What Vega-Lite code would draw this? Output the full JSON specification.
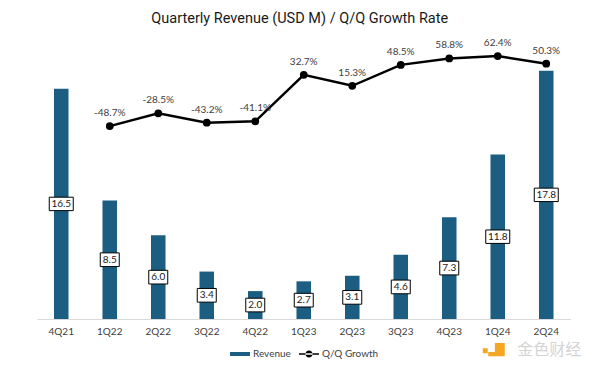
{
  "$schema": "https://vega.github.io/schema/vega-lite/v6.json",
  "width": 533.5,
  "height": 279,
  "autosize": "none",
  "padding": {"left": 37, "top": 40, "right": 29.5, "bottom": 48},
  "background": "white",
  "title": {
    "text": "Quarterly Revenue (USD M) / Q/Q Growth Rate",
    "anchor": "middle",
    "frame": "group",
    "fontSize": 14.5,
    "font": "Roboto",
    "fontWeight": "normal",
    "color": "#1a1a1a",
    "dx": -4,
    "offset": 12
  },
  "config": {
    "view": {"stroke": null},
    "font": "Lato",
    "locale": {
      "number": {"decimal": ".", "thousands": ",", "grouping": [3], "currency": ["$", ""], "minus": "-"}
    }
  },
  "data": {
    "values": [
      {"quarter": "4Q21", "revenue": 16.5, "growth": null},
      {"quarter": "1Q22", "revenue": 8.5, "growth": -0.487},
      {"quarter": "2Q22", "revenue": 6.0, "growth": -0.285},
      {"quarter": "3Q22", "revenue": 3.4, "growth": -0.432},
      {"quarter": "4Q22", "revenue": 2.0, "growth": -0.411},
      {"quarter": "1Q23", "revenue": 2.7, "growth": 0.327},
      {"quarter": "2Q23", "revenue": 3.1, "growth": 0.153},
      {"quarter": "3Q23", "revenue": 4.6, "growth": 0.485},
      {"quarter": "4Q23", "revenue": 7.3, "growth": 0.588},
      {"quarter": "1Q24", "revenue": 11.8, "growth": 0.624},
      {"quarter": "2Q24", "revenue": 17.8, "growth": 0.503}
    ]
  },
  "encoding": {
    "x": {
      "field": "quarter",
      "type": "nominal",
      "sort": null,
      "scale": {"paddingInner": 0.7, "paddingOuter": 0.35},
      "axis": {
        "title": null,
        "labelAngle": 0,
        "ticks": false,
        "domainColor": "#d9d9d9",
        "domainWidth": 1,
        "labelFontSize": 10,
        "labelColor": "#404040",
        "labelPadding": 7,
        "labelFont": "Lato"
      }
    }
  },
  "layer": [
    {
      "encoding": {},
      "layer": [
        {
          "mark": {"type": "bar", "color": "#1b5e82"},
          "encoding": {
            "y": {"field": "revenue", "type": "quantitative", "scale": {"domain": [0, 20], "nice": false}, "axis": null},
            "color": {
              "datum": "Revenue",
              "scale": {"domain": ["Revenue", "Q/Q Growth"], "range": ["#1b5e82", "#000000"]},
              "legend": {
                "orient": "none",
                "legendX": 193,
                "legendY": 304,
                "direction": "horizontal",
                "title": null,
                "labelFontSize": 10,
                "labelColor": "#404040",
                "labelFont": "Lato",
                "labelOffset": 3,
                "columnPadding": 8,
                "symbolSize": 400,
                "encode": {
                  "symbols": {
                    "update": {
                      "shape": {"signal": "datum.value === 'Revenue' ? 'M-1,-0.2H1V0.2H-1Z' : 'M-1,-0.07H1V0.07H-1Z M-0.36,0 A0.36,0.36 0 1,0 0.36,0 A0.36,0.36 0 1,0 -0.36,0Z'"},
                      "fill": {"signal": "datum.value === 'Revenue' ? '#1b5e82' : '#000000'"},
                      "stroke": {"value": "transparent"},
                      "strokeWidth": {"value": 0}
                    }
                  }
                }
              }
            }
          }
        },
        {
          "transform": [{"calculate": "datum.revenue / 2", "as": "mid"}],
          "mark": {"type": "point", "filled": false, "fill": "white", "fillOpacity": 1, "stroke": "#000000", "strokeWidth": 1, "opacity": 1},
          "encoding": {
            "y": {"field": "mid", "type": "quantitative"},
            "shape": {"condition": {"test": "datum.revenue >= 10", "value": "M-1,-0.56H1V0.56H-1Z"}, "value": "M-1,-0.72H1V0.72H-1Z"},
            "size": {"condition": {"test": "datum.revenue >= 10", "value": 576}, "value": 361}
          }
        },
        {
          "transform": [{"calculate": "datum.revenue / 2", "as": "mid"}],
          "mark": {"type": "text", "fontSize": 10, "color": "#1a1a1a", "font": "Lato"},
          "encoding": {
            "y": {"field": "mid", "type": "quantitative"},
            "text": {"field": "revenue", "type": "quantitative", "format": ".1f"}
          }
        },
        {
          "data": {"values": [{"brand": "金色财经"}]},
          "mark": {"type": "point", "shape": "M0.1,-0.6H1V0.6H-0.5V0.2H0.1Z M-1,-0.14H-0.55V0.32H-1Z", "filled": true, "color": "#f5a623", "size": 484, "opacity": 1, "xOffset": -4},
          "encoding": {
            "x": {"datum": "1Q24"},
            "y": {"datum": -2.2}
          }
        },
        {
          "data": {"values": [{"brand": "金色财经"}]},
          "mark": {"type": "text", "fontSize": 16, "color": "#d4d4d4", "font": "Noto Sans CJK SC", "dx": 3},
          "encoding": {
            "x": {"datum": "2Q24"},
            "y": {"datum": -2.2},
            "text": {"field": "brand"}
          }
        }
      ]
    },
    {
      "encoding": {
        "y": {"field": "growth", "type": "quantitative", "scale": {"domain": [-3.55, 0.88], "nice": false, "zero": false}, "axis": null}
      },
      "layer": [
        {
          "mark": {"type": "line", "color": "#000000", "strokeWidth": 2.5},
          "encoding": {
            "color": {"datum": "Q/Q Growth"}
          }
        },
        {
          "mark": {"type": "point", "filled": true, "color": "#000000", "size": 60, "opacity": 1}
        },
        {
          "mark": {"type": "text", "fontSize": 10, "color": "#404040", "dy": -13, "font": "Lato"},
          "encoding": {
            "text": {"field": "growth", "type": "quantitative", "format": ".1%"}
          }
        }
      ]
    }
  ],
  "resolve": {"scale": {"y": "independent"}}
}
